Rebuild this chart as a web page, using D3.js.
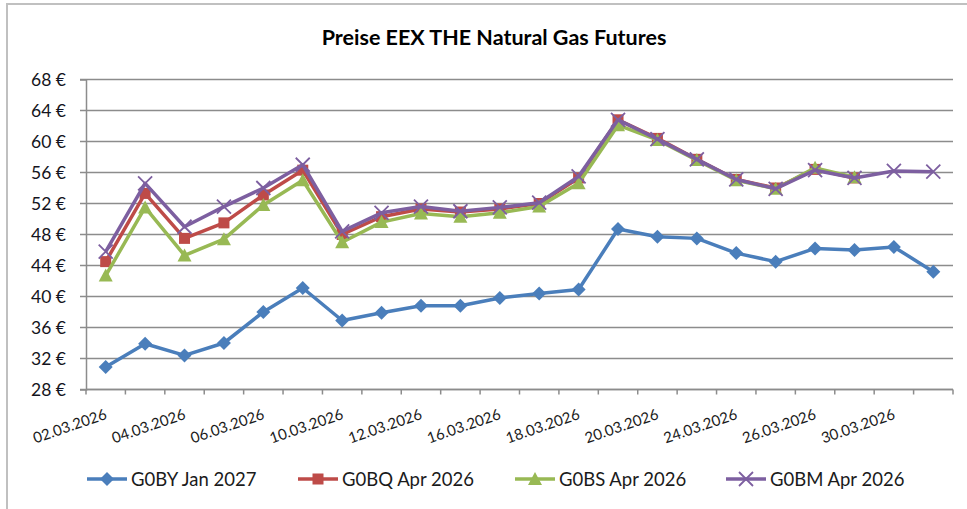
<!DOCTYPE html>
<meta charset="utf-8">
<script src="https://d3js.org/d3.v7.min.js"></script>
<style>
  body { margin: 0; background: white; }
  text { font-family: Lato, "Open Sans", sans-serif; }
</style>
<div id="chart"></div>
<script>
// trading days, March 2026
var dates = ["02.03.2026","03.03.2026","04.03.2026","05.03.2026","06.03.2026","09.03.2026",
  "10.03.2026","11.03.2026","12.03.2026","13.03.2026","16.03.2026","17.03.2026","18.03.2026",
  "19.03.2026","20.03.2026","23.03.2026","24.03.2026","25.03.2026","26.03.2026","27.03.2026",
  "30.03.2026","31.03.2026"];

var g0by = [30.9,33.9,32.4,34.0,38.0,41.1,36.9,37.9,38.8,38.8,39.8,40.4,40.9,48.7,47.7,47.5,45.6,44.5,46.2,46.0,46.4,43.2];
var g0bq = [44.5,53.3,47.5,49.5,53.1,56.3,48.0,50.3,51.3,50.9,51.3,52.0,55.3,62.8,60.4,57.7,55.1,54.0,56.4,55.3,null,null];
var g0bs = [42.7,51.5,45.3,47.4,51.8,55.0,47.0,49.6,50.7,50.3,50.8,51.6,54.6,62.1,60.2,57.6,55.0,53.9,56.6,55.4,null,null];
var g0bm = [45.8,54.6,49.0,51.6,54.0,57.0,48.4,50.8,51.6,51.0,51.5,52.1,55.5,62.8,60.3,57.7,55.1,53.9,56.3,55.3,56.2,56.1];

var yTicks = [28,32,36,40,44,48,52,56,60,64,68];

var series = [
  {name: "G0BY Jan 2027", values: g0by, color: "#4a7ebb", marker: "diamond"},
  {name: "G0BQ Apr 2026", values: g0bq, color: "#be4b48", marker: "square"},
  {name: "G0BS Apr 2026", values: g0bs, color: "#98b954", marker: "triangle"},
  {name: "G0BM Apr 2026", values: g0bm, color: "#7d5fa0", marker: "cross"}
];

var W = 967, H = 509;
var margin = {top: 79.5, left: 86, right: 14, bottom: 119};
var svg = d3.select("#chart").append("svg").attr("width", W).attr("height", H);

// outer frame
svg.append("rect").attr("x", 7).attr("y", 4).attr("width", W + 10).attr("height", H + 10)
  .attr("fill", "none").attr("stroke", "#c0c0c0").attr("stroke-width", 2);

svg.append("text").attr("x", 494).attr("y", 45).attr("text-anchor", "middle")
  .style("font-size", "21.5px").style("font-weight", "bold").attr("fill", "#000")
  .text("Preise EEX THE Natural Gas Futures");

var x = d3.scaleBand().domain(dates).range([margin.left, W - margin.right]);
var y = d3.scaleLinear().domain([28, 68]).range([H - margin.bottom - 0.5, margin.top]);

// gridlines
svg.append("g").selectAll("line").data(yTicks).enter().append("line")
  .attr("x1", margin.left - 6).attr("x2", W - margin.right)
  .attr("y1", function(d) { return y(d); }).attr("y2", function(d) { return y(d); })
  .attr("stroke", "#8c8c8c").attr("stroke-width", 1.5);

// y axis
var yAxis = svg.append("g").attr("transform", "translate(" + margin.left + ",0)")
  .call(d3.axisLeft(y).tickValues(yTicks).tickSize(6).tickFormat(function(d) { return d + " €"; }));
yAxis.select(".domain").attr("stroke", "#8c8c8c").attr("stroke-width", 1.5);
yAxis.selectAll(".tick line").remove();
yAxis.selectAll("text").attr("x", -20).style("font-size", "17.5px").attr("fill", "#141420");

// x axis
var xAxis = svg.append("g").attr("transform", "translate(0," + y(28) + ")");
xAxis.append("line").attr("x1", margin.left).attr("x2", W - margin.right)
  .attr("stroke", "#8c8c8c").attr("stroke-width", 1.5);
var bounds = dates.map(function(d) { return x(d); }).concat([W - margin.right]);
xAxis.selectAll(".tk").data(bounds).enter().append("line")
  .attr("x1", function(d) { return d; }).attr("x2", function(d) { return d; })
  .attr("y1", 0).attr("y2", 5).attr("stroke", "#8c8c8c").attr("stroke-width", 1.5);
xAxis.selectAll(".lbl").data(dates.filter(function(d, i) { return i % 2 === 0; })).enter()
  .append("text")
  .attr("transform", function(d) {
    return "translate(" + (x(d) + x.bandwidth() / 2 + 2) + ",29) rotate(-19)";
  })
  .attr("text-anchor", "end").style("font-size", "15px").attr("fill", "#1b1b1b")
  .text(function(d) { return d; });

var cx = function(i) { return x(dates[i]) + x.bandwidth() / 2; };

function drawMarker(g, type, color) {
  if (type === "diamond") {
    g.append("path").attr("d", "M0,-7L7,0L0,7L-7,0Z").attr("fill", color);
  } else if (type === "square") {
    g.append("rect").attr("x", -5.5).attr("y", -5.5).attr("width", 11).attr("height", 11).attr("fill", color);
  } else if (type === "triangle") {
    g.append("path").attr("d", "M0,-7L7,6L-7,6Z").attr("fill", color);
  } else {
    g.append("path").attr("d", "M-7,-7L7,7M-7,7L7,-7")
      .attr("stroke", color).attr("stroke-width", 1.8).attr("fill", "none");
  }
}

var line = d3.line()
  .defined(function(d) { return d != null; })
  .x(function(d, i) { return cx(i); })
  .y(function(d) { return y(d); });

series.forEach(function(s) {
  var g = svg.append("g");
  g.append("path").datum(s.values).attr("d", line)
    .attr("fill", "none").attr("stroke", s.color).attr("stroke-width", 3.5)
    .attr("stroke-linejoin", "round");
  s.values.forEach(function(v, i) {
    if (v == null) return;
    drawMarker(g.append("g").attr("transform", "translate(" + cx(i) + "," + y(v) + ")"), s.marker, s.color);
  });
});

// legend
var legX = [87, 298, 515, 726];
series.forEach(function(s, i) {
  var g = svg.append("g").attr("transform", "translate(" + legX[i] + ",479)");
  g.append("line").attr("x1", 0).attr("x2", 40).attr("stroke", s.color).attr("stroke-width", 3.5);
  drawMarker(g.append("g").attr("transform", "translate(20,0)"), s.marker, s.color);
  g.append("text").attr("x", 44).attr("y", 6.5).style("font-size", "18.5px").attr("fill", "#1b1b1b").text(s.name);
});
</script>
